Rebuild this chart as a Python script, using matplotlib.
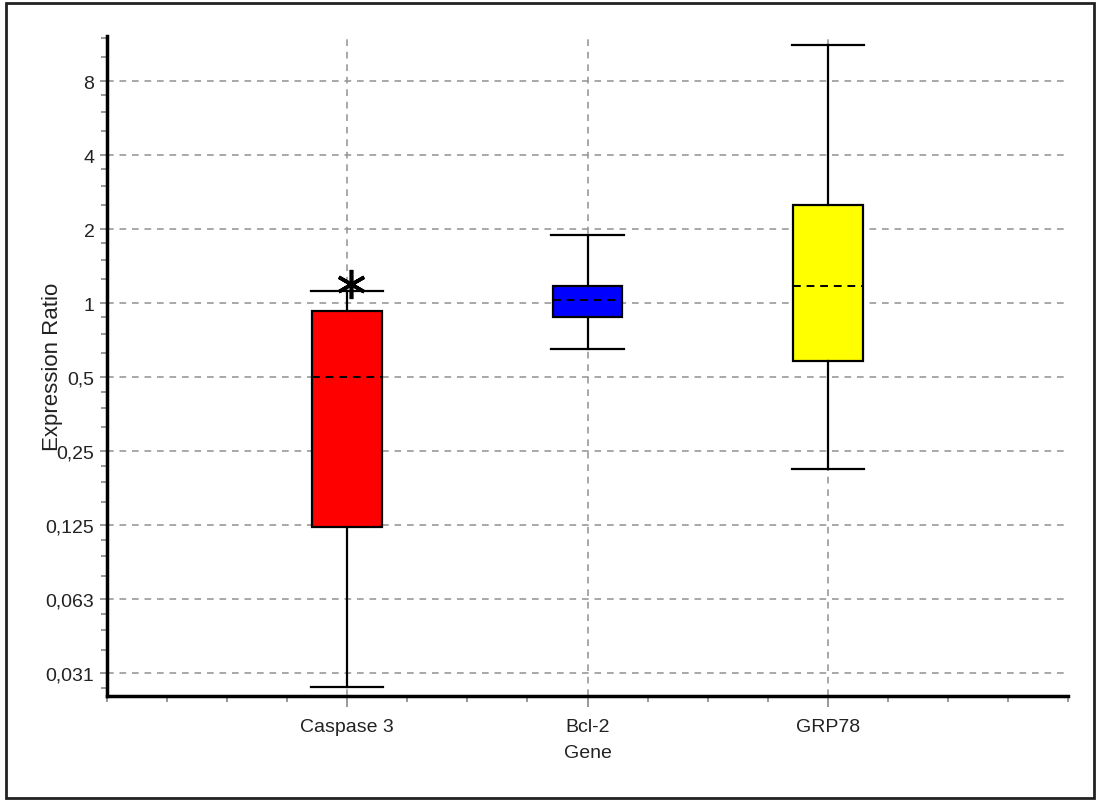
import matplotlib.pyplot as plt
import matplotlib.ticker as mticker
from matplotlib.patches import Rectangle

plt.rcParams['font.family'] = ['Liberation Sans', 'DejaVu Sans']

# data (expression ratio, log2 axis)
genes = ["Caspase 3", "Bcl-2", "GRP78"]
whislo = [0.0274, 0.65, 0.211]
q1 = [0.123, 0.877, 0.58]
med = [0.5, 1.03, 1.18]
q3 = [0.928, 1.18, 2.5]
whishi = [1.12, 1.89, 11.2]
colors = ["#ff0000", "#0000ff", "#ffff00"]

ytick_vals = [1/32, 1/16, 0.125, 0.25, 0.5, 1, 2, 4, 8]
ytick_labels = ["0,031", "0,063", "0,125", "0,25", "0,5", "1", "2", "4", "8"]

# significance mark
star_gene = 0
star_y = 1.195

fig = plt.figure(figsize=(10.97, 8.03), dpi=100)
ax = fig.add_axes([107/1097, 1 - 697/803, 961/1097, 660/803])

stats = []
for i, g in enumerate(genes):
    stats.append(dict(label=g, whislo=whislo[i], q1=q1[i], med=med[i],
                      q3=q3[i], whishi=whishi[i], fliers=[]))

positions = list(range(1, len(genes) + 1))
bp = ax.bxp(stats, positions=positions, widths=0.29, patch_artist=True,
            showfliers=False,
            boxprops=dict(edgecolor='black', linewidth=1.6),
            whiskerprops=dict(color='black', linewidth=1.6),
            capprops=dict(color='black', linewidth=1.6),
            medianprops=dict(color='black', linewidth=1.4, linestyle=(0, (4, 3))),
            capwidths=0.30, zorder=3)
for patch, c in zip(bp['boxes'], colors):
    patch.set_facecolor(c)

# asterisk above the Caspase 3 whisker
ax.plot([positions[star_gene] + 0.017], [star_y], marker=(6, 2, 0),
        markersize=21, markeredgewidth=2.6, color='black', zorder=4)
ax.plot([positions[star_gene] + 0.017], [star_y], marker=(6, 2, 0),
        markersize=25, markeredgewidth=0, color='black', zorder=4)

ax.set_yscale('log', base=2)
ax.set_ylim(0.0253, 12.2)
ax.set_xlim(0, 4)

ax.yaxis.set_major_locator(mticker.FixedLocator(ytick_vals))
ax.yaxis.set_major_formatter(mticker.FixedFormatter(ytick_labels))
ax.yaxis.set_minor_locator(mticker.LogLocator(base=2, subs=[1.25, 1.5, 1.75], numticks=50))
ax.yaxis.set_minor_formatter(mticker.NullFormatter())

ax.set_xticks(positions)
ax.set_xticklabels(genes)
ax.xaxis.set_minor_locator(mticker.MultipleLocator(0.25))

ax.tick_params(axis='both', which='major', labelsize=14, colors='#888888',
               labelcolor='#222222', width=1.2)
ax.tick_params(axis='y', which='major', length=5, pad=4)
ax.tick_params(axis='x', which='major', length=8, pad=8)
ax.tick_params(axis='both', which='minor', length=4, colors='#888888', width=1.2)

ax.grid(True, which='major', color='#999999', linestyle=(0, (4, 3.5)), linewidth=1.2)
ax.set_axisbelow(True)

for s in ['top', 'right']:
    ax.spines[s].set_visible(False)
for s in ['left', 'bottom']:
    ax.spines[s].set_linewidth(2.5)
    ax.spines[s].set_color('black')

ax.set_ylabel("Expression Ratio", fontsize=16, color='#222222')
ax.yaxis.set_label_coords(-0.046, 0.5)
ax.set_xlabel("Gene", fontsize=14, color='#222222', labelpad=6)

fig.patches.append(Rectangle((6/1097, 4/803), 1088/1097, 795/803,
                             transform=fig.transFigure, fill=False,
                             edgecolor='#222222', linewidth=2))

fig.savefig("out.png", dpi=100)
